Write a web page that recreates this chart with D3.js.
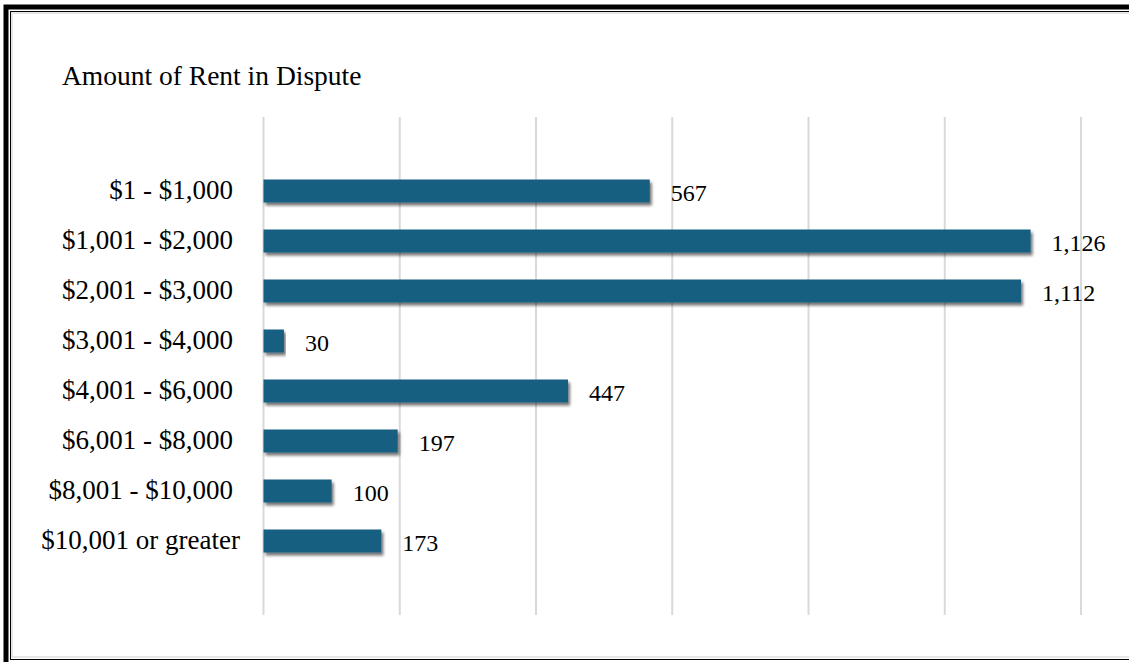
<!DOCTYPE html>
<html><head><meta charset="utf-8">
<script src="https://cdn.jsdelivr.net/npm/d3@7"></script>
<style>html,body{margin:0;padding:0;background:#fff;}svg{display:block;}</style>
</head><body>
<svg id="c" width="1129" height="662"></svg>
<script>
const categories = ["$1 - $1,000","$1,001 - $2,000","$2,001 - $3,000","$3,001 - $4,000","$4,001 - $6,000","$6,001 - $8,000","$8,001 - $10,000","$10,001 or greater"];
const values = [567, 1126, 1112, 30, 447, 197, 100, 173];
const xTicks = [0, 200, 400, 600, 800, 1000, 1200];
const title = "Amount of Rent in Dispute";

const svg = d3.select("#c");
const font = "'Liberation Serif','Times New Roman',serif";

// frame
svg.append("rect").attr("x",6).attr("y",7).attr("width",1140).attr("height",680).attr("fill","none").attr("stroke","#000").attr("stroke-width",5);
svg.append("rect").attr("x",10.5).attr("y",11.5).attr("width",1130).attr("height",648).attr("fill","none").attr("stroke","#000").attr("stroke-width",1);
svg.append("rect").attr("x",12).attr("y",13).attr("width",1130).attr("height",644).attr("fill","none").attr("stroke","#e6e6e6").attr("stroke-width",2);

const defs = svg.append("defs");
const f = defs.append("filter").attr("id","sh").attr("x","-5%").attr("y","-50%").attr("width","115%").attr("height","220%");
f.append("feGaussianBlur").attr("in","SourceAlpha").attr("stdDeviation",1.6).attr("result","b");
f.append("feOffset").attr("in","b").attr("dx",2).attr("dy",3).attr("result","o");
f.append("feComponentTransfer").attr("in","o").attr("result","o2").append("feFuncA").attr("type","linear").attr("slope",0.55);
const m = f.append("feMerge"); m.append("feMergeNode").attr("in","o2"); m.append("feMergeNode").attr("in","SourceGraphic");

const x = d3.scaleLinear().domain([0,1200]).range([263.5,1081]);
const y = d3.scaleBand().domain(categories).range([166,566]).paddingInner(0.54).paddingOuter(0.27);

// gridlines
svg.append("g").selectAll("line").data(xTicks).join("line")
  .attr("x1",d=>x(d)).attr("x2",d=>x(d)).attr("y1",117).attr("y2",615)
  .attr("stroke","#d9d9d9").attr("stroke-width",2);

svg.append("text").attr("x",62).attr("y",85).attr("font-family",font).attr("font-size",27.5).attr("fill","#000").text(title);

svg.append("g").selectAll("rect").data(values).join("rect")
  .attr("x",x(0)).attr("y",(d,i)=>y(categories[i])).attr("width",d=>x(d)-x(0)).attr("height",y.bandwidth())
  .attr("fill","#175e80").attr("filter","url(#sh)");

svg.append("g").selectAll("text").data(categories).join("text")
  .attr("x",(d,i)=>i===categories.length-1?240:233).attr("y",d=>y(d)+y.bandwidth()/2+7.5)
  .attr("text-anchor","end")
  .attr("font-family",font).attr("font-size",27).attr("fill","#000").text(d=>d);

svg.append("g").selectAll("text").data(values).join("text")
  .attr("x",d=>x(d)+21).attr("y",(d,i)=>y(categories[i])+y.bandwidth()/2+10)
  .attr("font-family",font).attr("font-size",24).attr("fill","#000").text(d=>d3.format(",")(d));
</script>
</body></html>
